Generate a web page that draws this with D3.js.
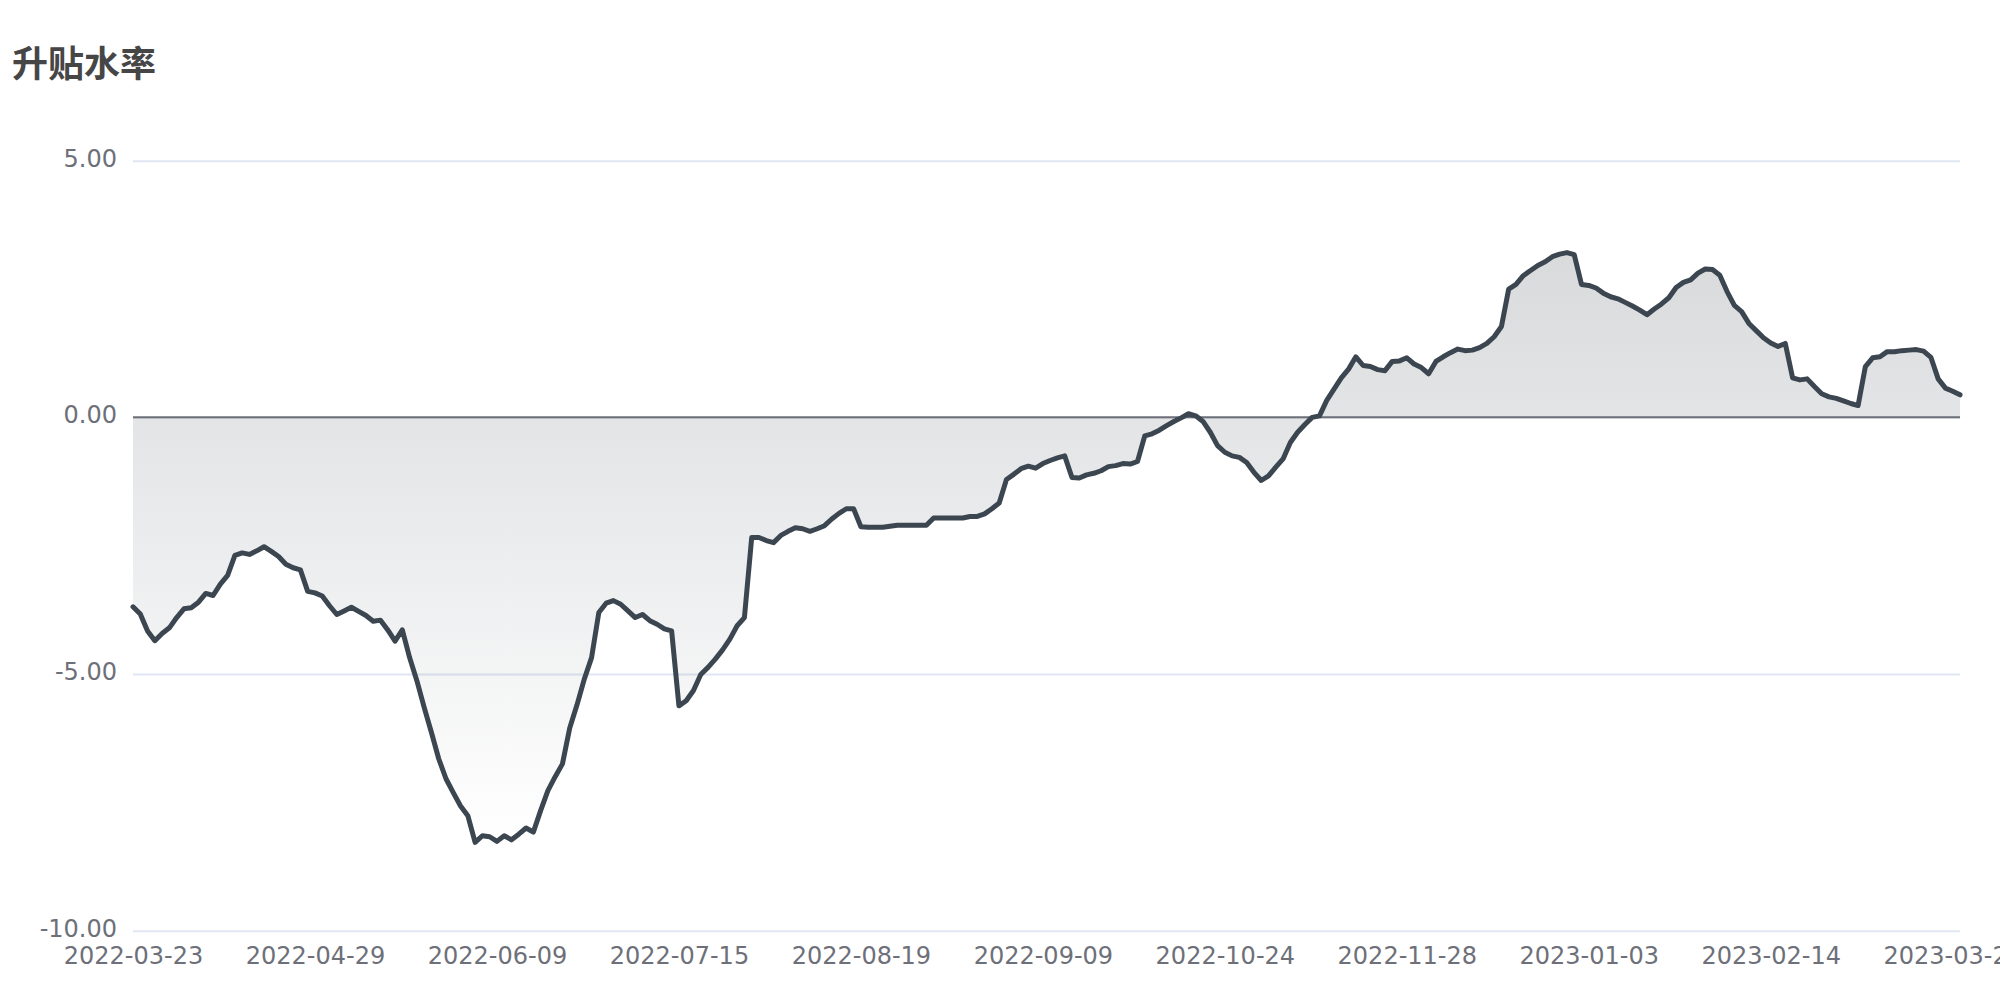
<!DOCTYPE html>
<html>
<head>
<meta charset="utf-8">
<script src="https://cdn.jsdelivr.net/npm/d3@7"></script>
<style>
  html, body { margin: 0; padding: 0; background: #ffffff; }
  svg { display: block; }
</style>
</head>
<body>
<svg id="chart" width="2000" height="1000"></svg>
<script>
// ---- data ----
const titleText = "升贴水率";
const tickLabels = ["2022-03-23","2022-04-29","2022-06-09","2022-07-15","2022-08-19","2022-09-09","2022-10-24","2022-11-28","2023-01-03","2023-02-14","2023-03-21"];
const labelEvery = 25;
const yTicks = [-10, -5, 0, 5];
const values = [
  -3.69,-3.83,-4.16,-4.35,-4.21,-4.10,-3.90,-3.73,-3.71,-3.60,
  -3.43,-3.47,-3.25,-3.08,-2.69,-2.64,-2.67,-2.60,-2.52,-2.61,
  -2.71,-2.86,-2.93,-2.97,-3.39,-3.42,-3.48,-3.67,-3.84,-3.77,
  -3.70,-3.78,-3.86,-3.97,-3.95,-4.14,-4.36,-4.14,-4.68,-5.13,
  -5.65,-6.14,-6.65,-7.04,-7.31,-7.57,-7.76,-8.28,-8.15,-8.17,
  -8.26,-8.15,-8.23,-8.12,-8.00,-8.08,-7.66,-7.27,-7.00,-6.75,
  -6.05,-5.60,-5.10,-4.68,-3.80,-3.62,-3.57,-3.64,-3.77,-3.90,
  -3.84,-3.96,-4.03,-4.12,-4.16,-5.62,-5.52,-5.32,-5.01,-4.87,
  -4.71,-4.53,-4.32,-4.06,-3.90,-2.34,-2.34,-2.40,-2.44,-2.30,
  -2.22,-2.15,-2.17,-2.22,-2.17,-2.11,-1.98,-1.87,-1.78,-1.78,
  -2.13,-2.14,-2.14,-2.14,-2.12,-2.10,-2.10,-2.10,-2.10,-2.10,
  -1.96,-1.96,-1.96,-1.96,-1.96,-1.93,-1.93,-1.88,-1.78,-1.67,
  -1.21,-1.11,-1.00,-0.95,-0.99,-0.90,-0.84,-0.79,-0.75,-1.17,
  -1.18,-1.12,-1.09,-1.04,-0.96,-0.94,-0.90,-0.91,-0.86,-0.36,
  -0.32,-0.25,-0.16,-0.08,-0.01,0.07,0.03,-0.08,-0.29,-0.55,
  -0.68,-0.75,-0.78,-0.88,-1.07,-1.23,-1.14,-0.97,-0.81,-0.49,
  -0.29,-0.14,0.00,0.03,0.33,0.55,0.77,0.94,1.18,1.01,
  0.99,0.93,0.91,1.09,1.10,1.16,1.04,0.97,0.85,1.09,
  1.18,1.26,1.33,1.30,1.31,1.36,1.44,1.57,1.77,2.50,
  2.59,2.76,2.86,2.96,3.03,3.13,3.18,3.21,3.17,2.59,
  2.57,2.52,2.42,2.35,2.31,2.24,2.17,2.09,2.00,2.11,
  2.21,2.33,2.53,2.63,2.68,2.81,2.89,2.88,2.77,2.45,
  2.18,2.06,1.83,1.69,1.55,1.45,1.38,1.44,0.77,0.73,
  0.75,0.60,0.46,0.40,0.37,0.32,0.27,0.23,0.99,1.16,
  1.18,1.28,1.28,1.30,1.31,1.32,1.29,1.17,0.75,0.57,
  0.51,0.44
];

// ---- layout ----
const plotLeft = 133, plotRight = 1960, plotTop = 160.7, plotBottom = 930.7;
const lineColor = "#3c4650";
const labelColor = "#6E7079";
const gridColor = "#E0E6F1";
const font = "'DejaVu Sans', sans-serif";

const svg = d3.select("#chart");

const idx = d3.range(values.length);
const x = d3.scalePoint().domain(idx).range([plotLeft, plotRight]);
const y = d3.scaleLinear().domain([-10, 5]).range([plotBottom, plotTop]);

// title
svg.append("text")
  .attr("x", 12).attr("y", 77)
  .attr("font-family", "'Noto Sans CJK SC', sans-serif")
  .attr("font-size", 36).attr("font-weight", "bold")
  .attr("fill", "#464646")
  .text(titleText);

// gradient
const defs = svg.append("defs");
const grad = defs.append("linearGradient").attr("id", "areaGrad")
  .attr("x1", 0).attr("y1", 0).attr("x2", 0).attr("y2", 1);
grad.append("stop").attr("offset", "0%").attr("stop-color", lineColor).attr("stop-opacity", 0.2);
grad.append("stop").attr("offset", "100%").attr("stop-color", lineColor).attr("stop-opacity", 0);

// y axis with grid
const yAxis = d3.axisLeft(y).tickValues(yTicks)
  .tickSize(-(plotRight - plotLeft)).tickPadding(16)
  .tickFormat(d => d.toFixed(2));
const gy = svg.append("g").attr("transform", `translate(${plotLeft},0)`).call(yAxis);
gy.select(".domain").remove();
gy.selectAll(".tick line").attr("stroke", gridColor).attr("stroke-width", 2);
gy.selectAll(".tick text")
  .attr("fill", labelColor).attr("font-size", 24).attr("font-family", font)
  .attr("dy", null).attr("y", 5.5);

// area
const area = d3.area()
  .x((d, i) => x(i))
  .y0(y(0))
  .y1(d => y(d));
svg.append("path").datum(values)
  .attr("d", area)
  .attr("fill", "url(#areaGrad)");

// zero axis line
svg.append("line")
  .attr("x1", plotLeft).attr("x2", plotRight)
  .attr("y1", y(0)).attr("y2", y(0))
  .attr("stroke", labelColor).attr("stroke-width", 2);

// line
const line = d3.line().x((d, i) => x(i)).y(d => y(d));
svg.append("path").datum(values)
  .attr("d", line)
  .attr("fill", "none")
  .attr("stroke", lineColor)
  .attr("stroke-width", 5)
  .attr("stroke-linejoin", "round")
  .attr("stroke-linecap", "round");

// x axis labels at bottom
const xAxis = d3.axisBottom(x)
  .tickValues(idx.filter(i => i % labelEvery === 0))
  .tickSize(0).tickPadding(0)
  .tickFormat(i => tickLabels[i / labelEvery]);
const gx = svg.append("g").attr("transform", `translate(0,${plotBottom})`).call(xAxis);
gx.select(".domain").remove();
gx.selectAll(".tick text")
  .attr("fill", labelColor).attr("font-size", 24).attr("font-family", font)
  .attr("dy", null).attr("y", 33.5);
</script>
</body>
</html>
